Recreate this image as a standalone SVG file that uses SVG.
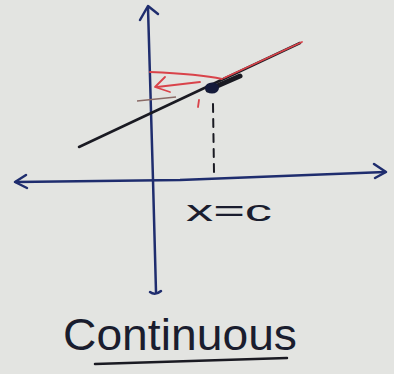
<svg xmlns="http://www.w3.org/2000/svg" width="394" height="374" viewBox="0 0 394 374">
<style>
.axis{stroke:#1f2d6e;stroke-width:2.5;fill:none;stroke-linecap:round;stroke-linejoin:round}
.ink{stroke:#1a1a22;fill:none;stroke-linecap:round;stroke-linejoin:round}
.red{stroke:#d9434a;fill:none;stroke-width:1.8;stroke-linecap:round;stroke-linejoin:round}
.txt{font-family:"Liberation Sans",Arial,sans-serif;fill:#1a1d2e}
</style>
<rect width="394" height="374" fill="#e3e4e1"/>
<g id="axes">
<path class="axis" d="M148,8 L153,180 L156,292"/>
<path class="axis" d="M140,20 L148,6 L158,14"/>
<path class="axis" d="M150,292 Q155,296 161,291"/>
<path class="axis" d="M16,182 L180,180 L385,172"/>
<path class="axis" d="M26,175 L15,182 L27,188"/>
<path class="axis" d="M374,164 L386,172 L375,178"/>
</g>
<g id="connectors">
<path class="ink" stroke-width="2.5" d="M79,147 L300,43"/>
<path class="red" stroke-width="2.2" d="M224,78 L302,42"/>
<path class="ink" stroke-width="5" d="M208,90 L240,76"/>
<path class="ink" stroke-width="2" stroke-dasharray="8,7" d="M213,104 L214,172"/>
<path class="red" d="M222,79 Q200,74 150,72"/>
<path class="red" d="M200,82 L157,87"/>
<path class="red" d="M165,77 L155,87 L170,92"/>
<path stroke="#8a6a66" stroke-width="1.5" fill="none" d="M137,101 L176,97"/>
<path class="red" stroke-width="2.5" d="M199,100 L198,107"/>
</g>
<g id="point">
<ellipse cx="212" cy="88" rx="7" ry="5.5" fill="#141a3a"/>
</g>
<g id="label-xc">
<text class="txt" x="186" y="221" font-size="30" textLength="86" lengthAdjust="spacingAndGlyphs">x=c</text>
</g>
<g id="title">
<text class="txt" x="63" y="350" font-size="44" textLength="234" lengthAdjust="spacingAndGlyphs">Continuous</text>
<path class="ink" stroke-width="2.5" d="M95,364 L287,358"/>
</g>
</svg>
